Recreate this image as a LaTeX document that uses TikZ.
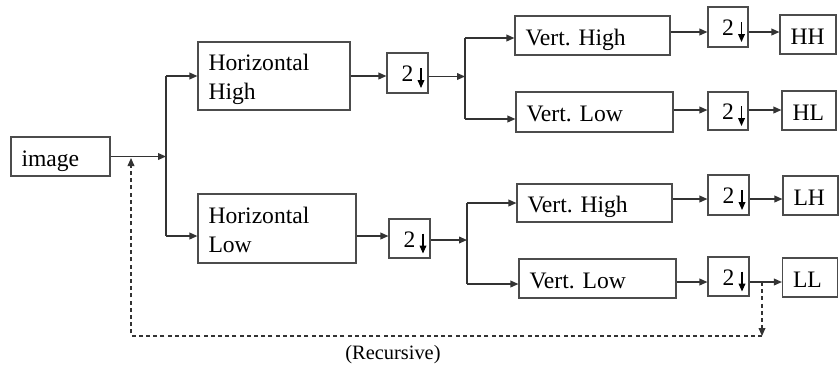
\documentclass[tikz,border=0pt]{standalone}
\usepackage{fontspec}
\setmainfont{Liberation Serif}
\usetikzlibrary{arrows.meta,calc}
\begin{document}
\begin{tikzpicture}[x=0.5pt,y=-0.5pt,
  bx/.style={draw=black!70, line width=0.6pt, inner xsep=5.25pt, inner ysep=0pt, align=left, font=\fontsize{11.8}{14.6}\selectfont, text height=9.5pt, text depth=0pt},
  bx2/.style={bx, text height=8pt, text depth=13.3pt},
  dbx/.style={draw=black!70, line width=0.6pt, inner sep=0pt, font=\fontsize{11.8}{14.6}\selectfont, text height=8.7pt, text depth=0pt},
  ln/.style={draw=black!80, line width=0.6pt},
  arr/.style={ln, -{Triangle[length=4pt,width=3.4pt]}},
  dsh/.style={arr, dash pattern=on 2pt off 1.6pt},
  dn/.style={draw=black, line width=0.6pt, -{Triangle[length=4pt,width=3.4pt]}}]
\useasboundingbox (0,0) rectangle (839,366);

% nodes
\node[bx, text width=39pt, minimum height=19.5pt] (img) at (60.5,156.5) {image};
\node[bx2, text width=65.5pt, minimum height=34pt] (hh) at (274,76) {Horizontal\\High};
\node[bx2, text width=68.5pt, minimum height=34.5pt] (hl) at (277,228.5) {Horizontal\\Low};

\node[dbx, minimum width=20.5pt, minimum height=20pt] (d1) at (407.5,73) {2\hspace{4.6pt}};
\node[dbx, minimum width=20.5pt, minimum height=19.5pt] (d4) at (409.5,238.5) {2\hspace{4.6pt}};

\node[bx, text width=67pt, minimum height=19.5pt] (vh1) at (592.5,35.5) {Vert.\ High};
\node[bx, text width=68pt, minimum height=20pt] (vl1) at (594.5,112) {Vert.\ Low};
\node[bx, text width=67pt, minimum height=19pt] (vh2) at (594.5,203) {Vert.\ High};
\node[bx, text width=68pt, minimum height=19.5pt] (vl2) at (597.5,278.5) {Vert.\ Low};

\node[dbx, minimum width=20pt, minimum height=20pt] (d2) at (728,27) {2\hspace{4.6pt}};
\node[dbx, minimum width=20pt, minimum height=19pt] (d3) at (728,111) {2\hspace{4.6pt}};
\node[dbx, minimum width=20.5pt, minimum height=20pt] (d5) at (728.5,195) {2\hspace{4.6pt}};
\node[dbx, minimum width=20.5pt, minimum height=19.5pt] (d6) at (728.5,276.5) {2\hspace{4.6pt}};

\node[bx, text width=17.5pt, minimum height=19.5pt] (ohh) at (808,34.5) {HH};
\node[bx, text width=16.5pt, minimum height=19.5pt] (ohl) at (809,110.5) {HL};
\node[bx, text width=17pt, minimum height=19.5pt] (olh) at (810.5,195.5) {LH};
\node[bx, text width=17pt, minimum height=19.5pt] (oll) at (810,277.5) {LL};

\node[font=\fontsize{10.2}{12}\selectfont] (rec) at (393,355) {(Recursive)};

% down arrows inside the 2 boxes
\foreach \d in {d1,d2,d3,d4,d5,d6}{
  \draw[dn] ($(\d)+(13.5,-5)$) -- ($(\d)+(13.5,15)$);
}

% junction coordinates
\coordinate (a1) at (166,76);
\coordinate (a2) at (166,236);
\coordinate (b1) at (465,38);
\coordinate (b2) at (465,119);
\coordinate (c1) at (467,203);
\coordinate (c2) at (467,284);
\coordinate (r1) at (762,282);
\coordinate (r2) at (762,336);
\coordinate (r3) at (131,336);
\coordinate (r4) at (131,158);

% first split
\draw[arr] (img.east) -- (img.east -| a1);
\draw[ln] (a1) -- (a2);
\draw[arr] (a1) -- (a1 -| hh.west);
\draw[arr] (a2) -- (a2 -| hl.west);

% upper chain
\draw[arr] (hh.east) -- (hh.east -| d1.west);
\draw[arr] ([yshift=-1.75pt]d1.east) -- ([yshift=-1.75pt]d1.east -| b1);
\draw[ln] (b1) -- (b2);
\draw[arr] (b1) -- (b1 -| vh1.west);
\draw[arr] (b2) -- (b2 -| vl1.west);
\draw[arr] ([yshift=1.75pt]vh1.east) -- ([yshift=1.75pt]vh1.east -| d2.west);
\draw[arr] ([yshift=-2.5pt]d2.east) -- ([yshift=-2.5pt]d2.east -| ohh.west);
\draw[arr] ([yshift=1pt]vl1.east) -- ([yshift=1pt]vl1.east -| d3.west);
\draw[arr] ([yshift=0.5pt]d3.east) -- ([yshift=0.5pt]d3.east -| ohl.west);

% lower chain
\draw[arr] ([yshift=-3.75pt]hl.east) -- ([yshift=-3.75pt]hl.east -| d4.west);
\draw[arr] ([yshift=-0.75pt]d4.east) -- ([yshift=-0.75pt]d4.east -| c1);
\draw[ln] (c1) -- (c2);
\draw[arr] (c1) -- (c1 -| vh2.west);
\draw[arr] (c2) -- (c2 -| vl2.west);
\draw[arr] ([yshift=2pt]vh2.east) -- ([yshift=2pt]vh2.east -| d5.west);
\draw[arr] ([yshift=-2pt]d5.east) -- ([yshift=-2pt]d5.east -| olh.west);
\draw[arr] ([yshift=-1.75pt]vl2.east) -- ([yshift=-1.75pt]vl2.east -| d6.west);
\draw[arr] ([yshift=-2.75pt]d6.east) -- ([yshift=-2.75pt]d6.east -| oll.west);

% recursive feedback
\draw[dsh] (r1) -- (r2);
\draw[dsh] (r2) -- (r3) -- (r4);
\end{tikzpicture}
\end{document}
